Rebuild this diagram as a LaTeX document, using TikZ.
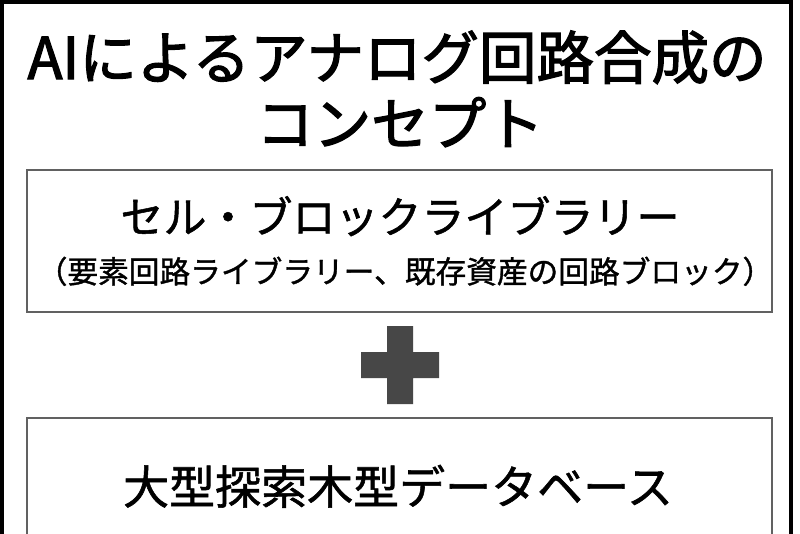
\documentclass[tikz,border=0pt]{standalone}
\usepackage{fontspec}
\newfontfamily\jp{Noto Sans CJK JP}
\newfontfamily\jpt[FakeBold=2.2]{Noto Sans CJK JP}
\newfontfamily\jpm[FakeBold=1.2]{Noto Sans CJK JP}
\begin{document}
\begin{tikzpicture}[x=1pt,y=-1pt,
  frame/.style={draw=black,line width=3.5pt},
  boxline/.style={draw=black!62,line width=2.6pt},
  plusfill/.style={fill=black!72,draw=none},
  ttl/.style={font=\jpt\fontsize{57.5}{60}\selectfont,inner sep=0pt,anchor=base},
  mainlbl/.style={font=\jpm\fontsize{43}{45}\selectfont,inner sep=0pt,anchor=base},
  sublbl/.style={font=\jpm\fontsize{30.7}{34}\selectfont,inner sep=0pt,anchor=base},
  dblbl/.style={font=\jpm\fontsize{46}{48}\selectfont,inner sep=0pt,anchor=base}]
\useasboundingbox (0,0) rectangle (800,533);
\clip (0,0) rectangle (800,533);
\fill[white] (0,0) rectangle (800,533);
\draw[frame] (1.75,1.75) rectangle (791,560);
% boxes
\draw[boxline] (27,170) rectangle (772,312);
\draw[boxline] (27,418) rectangle (772,560);
% plus
\path[plusfill] (387,326) -- (413,326) -- (413,352) -- (439,352) -- (439,378) -- (413,378) -- (413,404) -- (387,404) -- (387,378) -- (361,378) -- (361,352) -- (387,352) -- cycle;
\node[coordinate] (plus) at (400,365) {};
% texts
\node[ttl] (title1) at (397,79) {AIによるアナログ回路合成の};
\node[ttl] (title2) at (400,145) {コンセプト};
\node[mainlbl] (box1) at (400,233) {セル・ブロックライブラリー};
\node[sublbl] (box1sub) at (405,283) {（要素回路ライブラリー、既存資産の回路ブロック）};
\node[dblbl] (box2) at (398,504) {大型探索木型データベース};
\end{tikzpicture}
\end{document}
